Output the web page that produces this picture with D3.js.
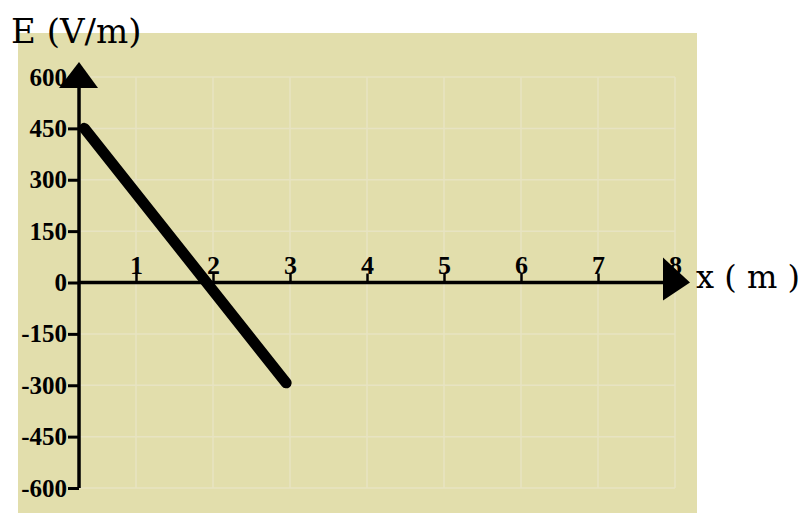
<!DOCTYPE html>
<html>
<head>
<meta charset="utf-8">
<script src="https://cdn.jsdelivr.net/npm/d3@7"></script>
<style>
  body { margin: 0; background: #fff; }
  svg { display: block; }
</style>
</head>
<body>
<div id="viscontainer"></div>
<script>
// x positions (m) and field values (V/m) of the plotted line
const xValues = [0.33, 2.95];
const eValues = [450, -293];
const xTicks = [1, 2, 3, 4, 5, 6, 7, 8];
const yTicks = [-600, -450, -300, -150, 0, 150, 300, 450, 600];
const axisOriginX = 0.26; // the vertical axis sits a little right of x = 0

function makeVis() {
  const width = 800;
  const height = 525;

  const svg = d3.create("svg").attr("width", width).attr("height", height);
  d3.select("#viscontainer").append(() => svg.node());

  const xScale = d3.scaleLinear().domain([0, 8]).range([59, 675]);
  const yScale = d3.scaleLinear().domain([-600, 600]).range([488, 77]);

  // panel background
  svg.append("rect")
    .attr("x", 18).attr("y", 33)
    .attr("width", 679).attr("height", 480)
    .attr("fill", "#e2deac");

  const x0 = xScale(axisOriginX);
  const y0 = yScale(0);

  // faint grid
  const grid = svg.append("g").attr("stroke", "#e7e3c2").attr("stroke-width", 1.5);
  grid.selectAll(".v")
    .data(xTicks)
    .join("line")
    .attr("x1", (d) => xScale(d)).attr("x2", (d) => xScale(d))
    .attr("y1", yScale(600)).attr("y2", yScale(-600));
  grid.selectAll(".h")
    .data(yTicks)
    .join("line")
    .attr("x1", x0).attr("x2", xScale(8))
    .attr("y1", (d) => yScale(d)).attr("y2", (d) => yScale(d));

  const serif = "'Liberation Serif', 'Times New Roman', serif";

  // y axis ticks and labels (plain hyphen for negatives)
  const yAxis = svg.append("g")
    .attr("transform", `translate(${x0}, 0)`)
    .call(d3.axisLeft(yScale).tickValues(yTicks).tickSize(11).tickPadding(1).tickFormat((d) => String(d)));
  yAxis.select(".domain").remove();
  yAxis.selectAll(".tick line").attr("stroke", "#000").attr("stroke-width", 3);
  yAxis.selectAll(".tick text")
    .attr("fill", "#000")
    .attr("font-family", serif)
    .attr("font-weight", "bold")
    .attr("font-size", 25);

  // x axis ticks and labels (above the axis)
  const xAxis = svg.append("g")
    .attr("transform", `translate(0, ${y0})`)
    .call(d3.axisTop(xScale).tickValues(xTicks).tickSize(9).tickPadding(0));
  xAxis.select(".domain").remove();
  xAxis.selectAll(".tick line").attr("stroke", "#000").attr("stroke-width", 2.5);
  xAxis.selectAll(".tick text")
    .attr("fill", "#000")
    .attr("font-family", serif)
    .attr("font-weight", "bold")
    .attr("font-size", 26);

  // axis lines
  svg.append("line")
    .attr("x1", x0).attr("x2", x0)
    .attr("y1", yScale(-600)).attr("y2", 70)
    .attr("stroke", "#000").attr("stroke-width", 3.5);
  svg.append("line")
    .attr("x1", x0).attr("x2", 680)
    .attr("y1", y0).attr("y2", y0)
    .attr("stroke", "#000").attr("stroke-width", 3.5);

  // arrow heads
  svg.append("path")
    .attr("d", `M${x0},62 L${x0 - 20},88 L${x0 + 19},88 Z`)
    .attr("fill", "#000");
  svg.append("path")
    .attr("d", `M690,${y0} L663,${y0 - 25} L663,${y0 + 18} Z`)
    .attr("fill", "#000");

  // field line
  const points = xValues.map((x, i) => [x, eValues[i]]);
  svg.append("path")
    .datum(points)
    .attr("d", d3.line().x((d) => xScale(d[0])).y((d) => yScale(d[1])))
    .attr("fill", "none")
    .attr("stroke", "#000")
    .attr("stroke-width", 11)
    .attr("stroke-linecap", "round");

  // axis titles
  svg.append("text")
    .attr("x", 11).attr("y", 43)
    .style("font-family", "'DejaVu Serif', serif")
    .style("font-size", "34px")
    .text("E (V/m)");
  svg.append("text")
    .attr("x", 696).attr("y", 288)
    .style("font-family", "'DejaVu Serif', serif")
    .style("font-size", "32px")
    .text("x ( m )");
}

makeVis();
</script>
</body>
</html>
